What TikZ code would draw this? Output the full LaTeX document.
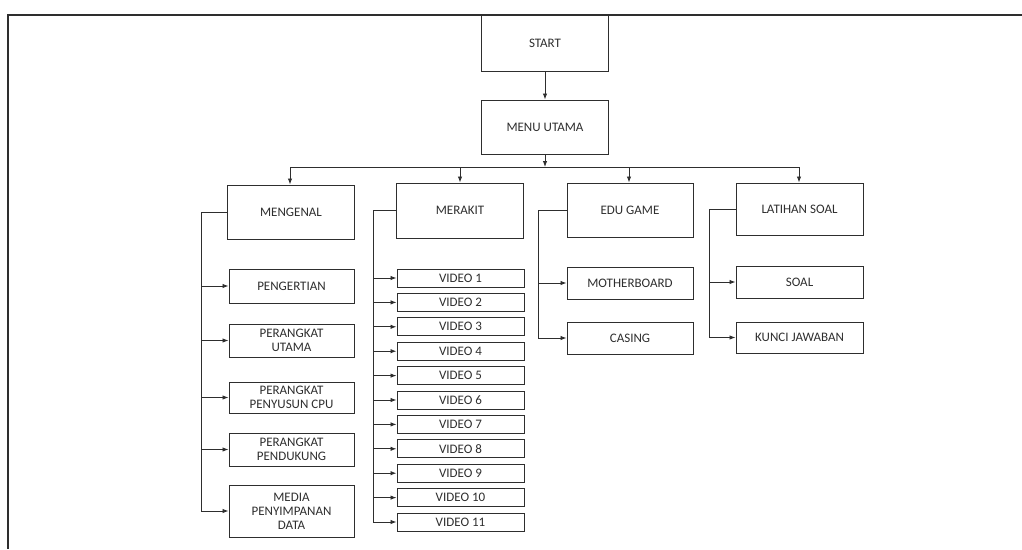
\documentclass[tikz,border=0pt]{standalone}
\usepackage{fontspec}
\setmainfont{Carlito}
\usetikzlibrary{arrows.meta}
\definecolor{ink}{HTML}{2E2E2E}
\begin{document}
\begin{tikzpicture}[x=1pt,y=-1pt,
  every node/.style={font=\fontsize{13}{14}\selectfont, text=ink},
  box/.style={draw=ink, line width=1pt, align=center, inner sep=1pt},
  lnk/.style={draw=ink, line width=0.9pt},
  arr/.style={lnk, -{Latex[length=6pt,width=4.5pt]}}]
\useasboundingbox (0,0) rectangle (1022,549);
\draw[ink, line width=1.6pt] (1022,15) -- (8,15) -- (8,549);

\node[box, minimum width=127pt, minimum height=56pt] (start) at (545,43) {START};
\node[box, minimum width=127pt, minimum height=54pt] (menu) at (545,127) {MENU UTAMA};

\node[box, minimum width=127pt, minimum height=54pt] (meng) at (291,212) {MENGENAL};
\node[box, minimum width=127pt, minimum height=55pt] (mer) at (460,210.5) {MERAKIT};
\node[box, minimum width=126pt, minimum height=54pt] (edu) at (630,210) {EDU GAME};
\node[box, minimum width=127pt, minimum height=52pt] (lat) at (799.5,209) {LATIHAN SOAL};

\node[box, minimum width=125pt, minimum height=34pt] (peng) at (291.5,286) {PENGERTIAN};
\node[box, minimum width=125pt, minimum height=33pt] (putama) at (291.5,340.5) {PERANGKAT\\UTAMA};
\node[box, minimum width=125pt, minimum height=31pt] (pcpu) at (291.5,397.5) {PERANGKAT\\PENYUSUN CPU};
\node[box, minimum width=125pt, minimum height=33pt] (pdukung) at (291.5,449.5) {PERANGKAT\\PENDUKUNG};
\node[box, minimum width=125pt, minimum height=52pt] (media) at (291.5,511) {MEDIA\\PENYIMPANAN\\DATA};

\foreach \i in {1,...,11} {
  \node[box, minimum width=127pt, minimum height=18pt] (v\i) at (460.5,{278+24.4*(\i-1)}) {VIDEO \i};
}

\node[box, minimum width=126pt, minimum height=32pt] (mobo) at (630,283) {MOTHERBOARD};
\node[box, minimum width=126pt, minimum height=32pt] (casing) at (630,338) {CASING};
\node[box, minimum width=127pt, minimum height=32pt] (soal) at (799.5,282) {SOAL};
\node[box, minimum width=127pt, minimum height=31pt] (kunci) at (799.5,337.5) {KUNCI JAWABAN};

% top links
\draw[arr] (start.south) -- (menu.north);
\coordinate (busm) at (545,167);
\draw[arr] (menu.south) -- (busm);
\draw[lnk] (290,167) -- (799,167);
\draw[arr] (290,167) -- (290,167 |- meng.north);
\draw[arr] (460,167) -- (460,167 |- mer.north);
\draw[arr] (629,167) -- (629,167 |- edu.north);
\draw[arr] (799,167) -- (799,167 |- lat.north);

% brackets
\foreach \c in {peng,putama,pcpu,pdukung,media} {
  \draw[arr] (meng.west) -- (201,212) |- (\c.west);
}
\foreach \i in {1,...,11} {
  \draw[arr] (mer.west) -- (373,210.5) |- (v\i.west);
}
\foreach \c in {mobo,casing} {
  \draw[arr] (edu.west) -- (538,210) |- (\c.west);
}
\foreach \c in {soal,kunci} {
  \draw[arr] (lat.west) -- (709,209) |- (\c.west);
}
\end{tikzpicture}
\end{document}
